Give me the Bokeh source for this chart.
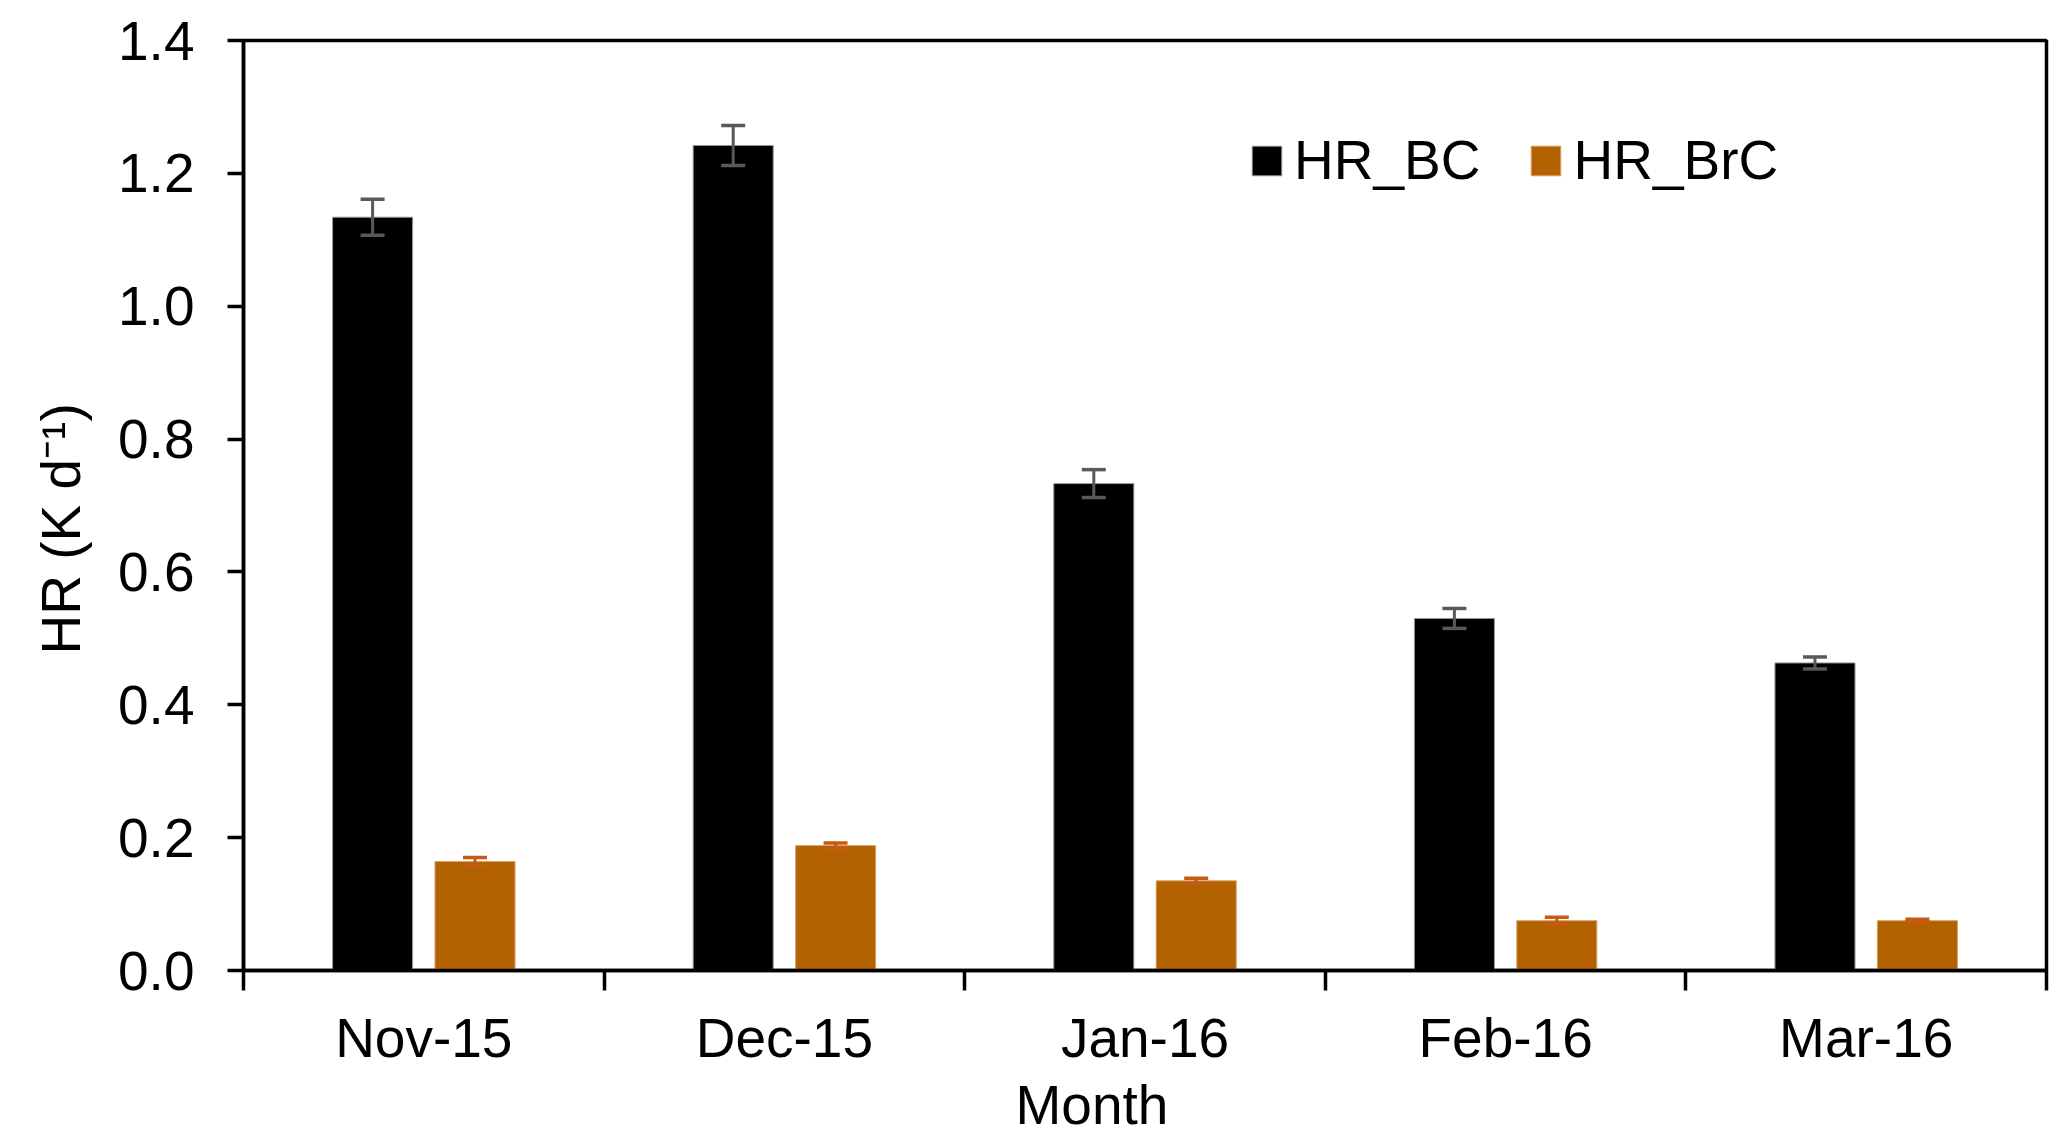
from bokeh.plotting import figure
from bokeh.models import (ColumnDataSource, Range1d, FixedTicker, PrintfTickFormatter,
                          Whisker, TeeHead, Legend, LegendItem, Title)
from bokeh.embed import file_html
from bokeh.resources import INLINE

# ---- data ----
months = ["Nov-15", "Dec-15", "Jan-16", "Feb-16", "Mar-16"]
hr_bc = [1.134, 1.242, 0.733, 0.530, 0.463]
hr_bc_err = [0.027, 0.030, 0.021, 0.015, 0.009]
hr_brc = [0.164, 0.188, 0.135, 0.075, 0.075]
hr_brc_err = [0.006, 0.004, 0.004, 0.005, 0.002]
y_ticks = [0.0, 0.2, 0.4, 0.6, 0.8, 1.0, 1.2, 1.4]

FONT = "Liberation Sans"
FS = "55px"
OFF = 0.142
BW = 0.222

idx = list(range(len(months)))
src = ColumnDataSource(dict(
    pos_bc=[i - OFF for i in idx],
    pos_brc=[i + OFF for i in idx],
    bc=hr_bc,
    brc=hr_brc,
    bc_up=[v + e for v, e in zip(hr_bc, hr_bc_err)],
    bc_lo=[v - e for v, e in zip(hr_bc, hr_bc_err)],
    brc_up=[v + e for v, e in zip(hr_brc, hr_brc_err)],
    brc_lo=[v - e for v, e in zip(hr_brc, hr_brc_err)],
))

p = figure(width=2067, height=1138, output_backend="svg", toolbar_location=None,
           x_range=Range1d(-0.5, len(months) - 0.5), y_range=Range1d(0, 1.4),
           min_border_left=243, min_border_right=21, min_border_top=40,
           min_border_bottom=168)
p.grid.visible = False
p.outline_line_color = "black"
p.outline_line_width = 3.5
p.background_fill_color = "white"
p.border_fill_color = "white"

r_bc = p.vbar(x="pos_bc", top="bc", bottom=0, width=BW, source=src,
              fill_color="black", line_color="#9a9a9a", line_width=1)
r_brc = p.vbar(x="pos_brc", top="brc", bottom=0, width=BW, source=src,
               fill_color="#B26200", line_color="#dba268", line_width=1)

w1 = Whisker(source=src, base="pos_bc", upper="bc_up", lower="bc_lo",
             line_color="#595959", line_width=3, level="overlay",
             upper_head=TeeHead(size=24, line_color="#595959", line_width=3.5),
             lower_head=TeeHead(size=24, line_color="#595959", line_width=3.5))
w2 = Whisker(source=src, base="pos_brc", upper="brc_up", lower="brc_lo",
             line_color="#C55A11", line_width=3, level="overlay",
             upper_head=TeeHead(size=24, line_color="#C55A11", line_width=3.5),
             lower_head=TeeHead(size=24, line_color="#C55A11", line_width=3.5))
p.add_layout(w1)
p.add_layout(w2)

# x axis: labels at centers, ticks at boundaries
xa = p.xaxis[0]
xa.ticker = FixedTicker(ticks=idx, minor_ticks=[i - 0.5 for i in idx] + [len(months) - 0.5])
xa.major_label_overrides = {i: m for i, m in zip(idx, months)}
xa.major_tick_line_color = None
xa.major_tick_out = 20
xa.major_tick_in = 0
xa.minor_tick_out = 20
xa.minor_tick_in = 0
xa.minor_tick_line_color = "black"
xa.minor_tick_line_width = 3.5
xa.axis_line_color = "black"
xa.axis_line_width = 3.5
xa.major_label_text_font = FONT
xa.major_label_text_font_size = FS
xa.major_label_text_color = "black"
xa.major_label_standoff = 16

ya = p.yaxis[0]
ya.ticker = FixedTicker(ticks=y_ticks)
ya.formatter = PrintfTickFormatter(format="%.1f")
ya.major_tick_out = 16
ya.major_tick_in = 0
ya.major_tick_line_width = 3.5
ya.major_tick_line_color = "black"
ya.minor_tick_line_color = None
ya.axis_line_color = "black"
ya.axis_line_width = 3.5
ya.major_label_text_font = FONT
ya.major_label_text_font_size = FS
ya.major_label_text_color = "black"
ya.major_label_standoff = 33

# axis titles as side titles (offset along the axis)
p.add_layout(Title(text="Month", align="left", offset=772, standoff=0,
                   text_font=FONT, text_font_size=FS, text_font_style="normal",
                   text_color="black"), "below")
p.add_layout(Title(text="HR (K d\u207b\u00b9)", align="left", offset=316, standoff=48,
                   text_font=FONT, text_font_size=FS, text_font_style="normal",
                   text_color="black"), "left")

legend = Legend(items=[LegendItem(label="HR_BC", renderers=[r_bc]),
                       LegendItem(label="HR_BrC", renderers=[r_brc])],
                orientation="horizontal", location=(1005, 778),
                glyph_width=37, glyph_height=37, label_text_font=FONT,
                label_text_font_size=FS, label_text_color="black",
                label_standoff=9, spacing=47, padding=0, margin=0,
                border_line_color=None, background_fill_alpha=0)
p.add_layout(legend)

open("out.html", "w").write(file_html(p, INLINE))
